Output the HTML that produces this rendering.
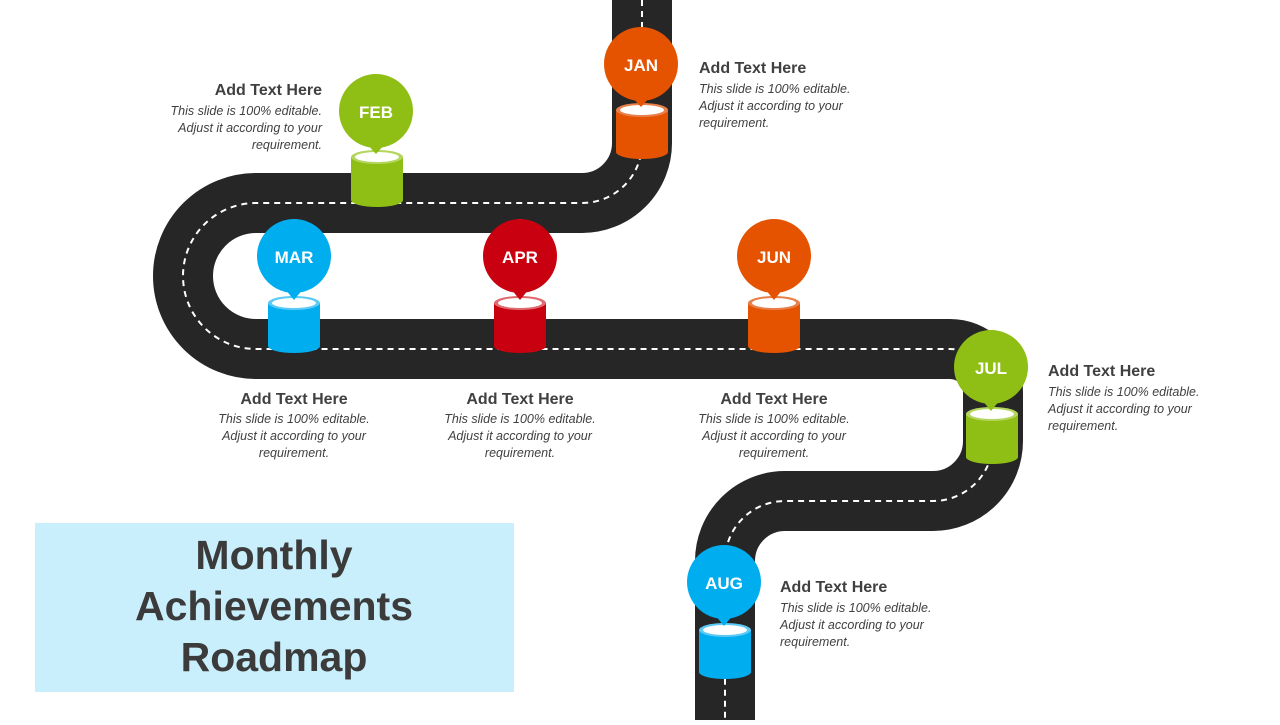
<!DOCTYPE html>
<html><head><meta charset="utf-8"><style>
html,body{margin:0;padding:0;background:#fff;}
body{width:1280px;height:720px;overflow:hidden;font-family:"Liberation Sans",sans-serif;}
</style></head><body>
<svg width="1280" height="720" viewBox="0 0 1280 720" xmlns="http://www.w3.org/2000/svg" font-family="Liberation Sans, sans-serif">
<rect x="35" y="523" width="479" height="169" fill="#c9effd"/>
<g font-weight="bold" font-size="41" fill="#3b3b3b" text-anchor="middle">
<text x="274" y="569">Monthly</text>
<text x="274" y="620">Achievements</text>
<text x="274" y="671">Roadmap</text>
</g>
<path d="M642 0 V143 A60 60 0 0 1 582 203 H256 A73 73 0 0 0 256 349 H950 A43 43 0 0 1 993 392 V441 A60 60 0 0 1 933 501 H785 A60 60 0 0 0 725 561 V720" fill="none" stroke="#262626" stroke-width="60"/>
<path d="M642 0 V143 A60 60 0 0 1 582 203 H256 A73 73 0 0 0 256 349 H950 A43 43 0 0 1 993 392 V441 A60 60 0 0 1 933 501 H785 A60 60 0 0 0 725 561 V720" fill="none" stroke="#fff" stroke-width="2" stroke-dasharray="6 5"/>
<defs>
<g id="x"></g>
</defs>
<!-- cylinders & pins -->
<g id="items">
<!-- JAN -->
<path d="M616 110 V152 A26 7 0 0 0 668 152 V110 Z" fill="#e55300"/><ellipse cx="642" cy="110" rx="26" ry="7" fill="#e8804a"/><ellipse cx="642" cy="110" rx="22" ry="5" fill="#fff"/>
<circle cx="641" cy="64" r="37" fill="#e55300"/><path d="M632 97 L650 97 L641 107 Z" fill="#e55300"/>
<!-- FEB -->
<path d="M351 157 V200 A26 7 0 0 0 403 200 V157 Z" fill="#8fbe15"/><ellipse cx="377" cy="157" rx="26" ry="7" fill="#b3d65e"/><ellipse cx="377" cy="157" rx="22" ry="5" fill="#fff"/>
<circle cx="376" cy="111" r="37" fill="#8fbe15"/><path d="M367 144 L385 144 L376 154 Z" fill="#8fbe15"/>
<!-- MAR -->
<path d="M268 303 V346 A26 7 0 0 0 320 346 V303 Z" fill="#00adef"/><ellipse cx="294" cy="303" rx="26" ry="7" fill="#5ccaf5"/><ellipse cx="294" cy="303" rx="22" ry="5" fill="#fff"/>
<circle cx="294" cy="256" r="37" fill="#00adef"/><path d="M285 289 L303 289 L294 300 Z" fill="#00adef"/>
<!-- APR -->
<path d="M494 303 V346 A26 7 0 0 0 546 346 V303 Z" fill="#c8000f"/><ellipse cx="520" cy="303" rx="26" ry="7" fill="#e06a70"/><ellipse cx="520" cy="303" rx="22" ry="5" fill="#fff"/>
<circle cx="520" cy="256" r="37" fill="#c8000f"/><path d="M511 289 L529 289 L520 300 Z" fill="#c8000f"/>
<!-- JUN -->
<path d="M748 303 V346 A26 7 0 0 0 800 346 V303 Z" fill="#e55300"/><ellipse cx="774" cy="303" rx="26" ry="7" fill="#e8804a"/><ellipse cx="774" cy="303" rx="22" ry="5" fill="#fff"/>
<circle cx="774" cy="256" r="37" fill="#e55300"/><path d="M765 289 L783 289 L774 300 Z" fill="#e55300"/>
<!-- JUL -->
<path d="M966 414 V457 A26 7 0 0 0 1018 457 V414 Z" fill="#8fbe15"/><ellipse cx="992" cy="414" rx="26" ry="7" fill="#b3d65e"/><ellipse cx="992" cy="414" rx="22" ry="5" fill="#fff"/>
<circle cx="991" cy="367" r="37" fill="#8fbe15"/><path d="M982 400 L1000 400 L991 411 Z" fill="#8fbe15"/>
<!-- AUG -->
<path d="M699 630 V672 A26 7 0 0 0 751 672 V630 Z" fill="#00adef"/><ellipse cx="725" cy="630" rx="26" ry="7" fill="#5ccaf5"/><ellipse cx="725" cy="630" rx="22" ry="5" fill="#fff"/>
<circle cx="724" cy="582" r="37" fill="#00adef"/><path d="M715 615 L733 615 L724 626 Z" fill="#00adef"/>
</g>
<g font-weight="bold" font-size="17" fill="#fff" text-anchor="middle">
<text x="641" y="71">JAN</text><text x="376" y="118">FEB</text><text x="294" y="263">MAR</text>
<text x="520" y="263">APR</text><text x="774" y="263">JUN</text><text x="991" y="374">JUL</text><text x="724" y="589">AUG</text>
</g>
<g fill="#404040">
<g font-size="16" font-weight="bold">
<text x="699" y="73">Add Text Here</text>
<text x="322" y="95" text-anchor="end">Add Text Here</text>
<text x="294" y="404" text-anchor="middle">Add Text Here</text>
<text x="520" y="404" text-anchor="middle">Add Text Here</text>
<text x="774" y="404" text-anchor="middle">Add Text Here</text>
<text x="1048" y="376">Add Text Here</text>
<text x="780" y="592">Add Text Here</text>
</g>
<g font-size="12.5" font-style="italic">
<text x="699" y="93">This slide is 100% editable.</text><text x="699" y="110">Adjust it according to your</text><text x="699" y="127">requirement.</text>
<g text-anchor="end"><text x="322" y="115">This slide is 100% editable.</text><text x="322" y="132">Adjust it according to your</text><text x="322" y="149">requirement.</text></g>
<g text-anchor="middle">
<text x="294" y="423">This slide is 100% editable.</text><text x="294" y="440">Adjust it according to your</text><text x="294" y="457">requirement.</text>
<text x="520" y="423">This slide is 100% editable.</text><text x="520" y="440">Adjust it according to your</text><text x="520" y="457">requirement.</text>
<text x="774" y="423">This slide is 100% editable.</text><text x="774" y="440">Adjust it according to your</text><text x="774" y="457">requirement.</text>
</g>
<text x="1048" y="396">This slide is 100% editable.</text><text x="1048" y="413">Adjust it according to your</text><text x="1048" y="430">requirement.</text>
<text x="780" y="612">This slide is 100% editable.</text><text x="780" y="629">Adjust it according to your</text><text x="780" y="646">requirement.</text>
</g>
</g>
</svg>
</body></html>
